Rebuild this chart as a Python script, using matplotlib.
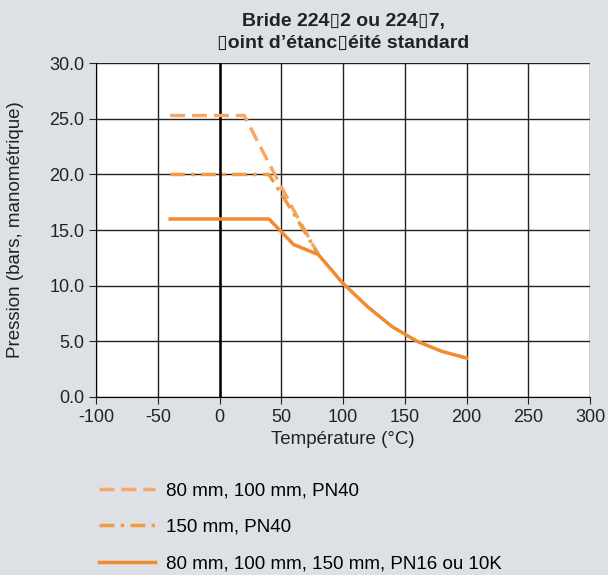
import matplotlib.pyplot as plt
from matplotlib.lines import Line2D

plt.rcParams['font.family'] = ['Liberation Sans', 'DejaVu Sans']
plt.rcParams['axes.unicode_minus'] = False

# données
temp_pn40_80 = [-40, 20, 40, 60, 80]
pres_pn40_80 = [25.3, 25.3, 21.0, 16.8, 12.8]

temp_pn40_150 = [-40, 40, 60, 80]
pres_pn40_150 = [20.0, 20.0, 16.5, 12.8]

temp_pn16 = [-40, 40, 60, 80, 100, 120, 140, 160, 180, 200]
pres_pn16 = [16.0, 16.0, 13.7, 12.8, 10.2, 8.1, 6.3, 5.0, 4.1, 3.5]

labels = ["80 mm, 100 mm, PN40", "150 mm, PN40", "80 mm, 100 mm, 150 mm, PN16 ou 10K"]

bg = "#dde1e5"
fig = plt.figure(figsize=(6.08, 5.75), dpi=100, facecolor=bg)
ax = fig.add_axes([0.158, 0.3096, 0.8125, 0.5804])
ax.set_facecolor("white")

ax.set_xlim(-100, 300)
ax.set_ylim(0, 30)
ax.set_xticks(range(-100, 301, 50))
ax.set_yticks([0, 5, 10, 15, 20, 25, 30])
ax.set_yticklabels([f"{v:.1f}" for v in [0, 5, 10, 15, 20, 25, 30]])
ax.grid(True, color="#222222", linewidth=1.0)
ax.axvline(0, color="black", linewidth=1.8)
for s in ax.spines.values():
    s.set_visible(False)
ax.spines["bottom"].set_visible(True)
ax.spines["left"].set_visible(True)
ax.tick_params(labelsize=13, length=5, colors="#222222")

c1 = "#f7a868"
c2 = "#f39a45"
c3 = "#f28a2e"
d1 = (4.3, 2)
d2 = (4.3, 1.8, 1, 1.8)
ax.plot(temp_pn40_80, pres_pn40_80, color=c1, lw=2.5, dashes=d1)
ax.plot(temp_pn40_150, pres_pn40_150, color=c2, lw=2.5, dashes=d2)
ax.plot(temp_pn16, pres_pn16, color=c3, lw=2.5)

ax.set_xlabel("Température (°C)", fontsize=13.5, color="#222222", labelpad=4)
ax.set_ylabel("Pression (bars, manométrique)", fontsize=13.5, color="#222222", labelpad=18)
ax.set_title("Bride 224\u25af2 ou 224\u25af7,\n\u25afoint d\u2019étanc\u25aféité standard",
             fontsize=14, fontweight="bold", color="#222222", pad=11, linespacing=1.35)

handles = [Line2D([], [], color=c1, lw=2.5, dashes=d1),
           Line2D([], [], color=c2, lw=2.5, dashes=d2),
           Line2D([], [], color=c3, lw=2.5)]
fig.legend(handles, labels, loc="upper left", bbox_to_anchor=(0.135, 0.19),
           frameon=False, fontsize=13.5, handlelength=3.0, labelspacing=1.02,
           handletextpad=0.6)

plt.savefig("out.png", dpi=100, facecolor=bg)
